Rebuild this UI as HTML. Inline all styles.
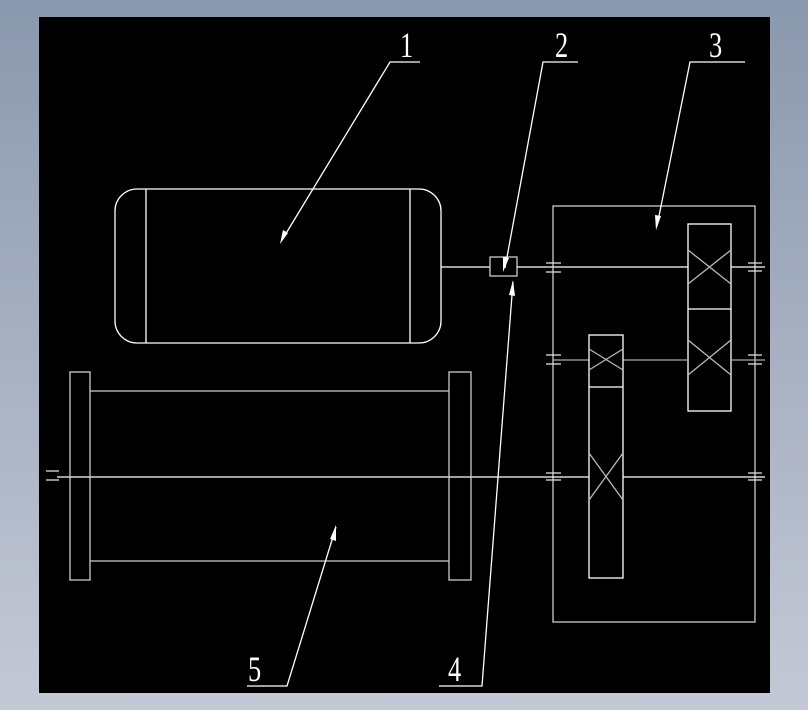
<!DOCTYPE html>
<html><head><meta charset="utf-8"><style>
html,body{margin:0;padding:0;width:808px;height:710px;overflow:hidden;background:linear-gradient(#8a98ad,#c4c9d6);}
svg{position:absolute;left:0;top:0}
text{font-family:"Liberation Serif",serif;font-size:33px;fill:#fff}
</style></head><body>
<svg width="808" height="710" viewBox="0 0 808 710">
<rect x="39" y="17" width="731" height="676" fill="#000"/>
<g stroke="#fff" stroke-width="1.3" fill="none">
<rect x="115" y="189" width="326" height="154" rx="22"/>
<line x1="146" y1="189" x2="146" y2="343"/>
<line x1="410" y1="189" x2="410" y2="343"/>
<line x1="441" y1="267" x2="490" y2="267"/>
<rect x="490" y="257" width="27" height="19" stroke="#ccc"/>
<line x1="517" y1="267" x2="688" y2="267"/>
<rect x="553" y="206" width="202" height="416" stroke="#ccc"/>
<rect x="688" y="224" width="43" height="187"/>
<line x1="688" y1="309" x2="731" y2="309"/>
<line x1="688" y1="250" x2="731" y2="284" stroke="#bbb"/><line x1="731" y1="250" x2="688" y2="284" stroke="#bbb"/>
<line x1="688" y1="340" x2="731" y2="375" stroke="#bbb"/><line x1="731" y1="340" x2="688" y2="375" stroke="#bbb"/>
<line x1="731" y1="267" x2="765" y2="267"/>
<line x1="553" y1="360" x2="589" y2="360" stroke="#aaa"/>
<line x1="623" y1="360" x2="688" y2="360" stroke="#aaa"/>
<line x1="731" y1="360" x2="765" y2="360" stroke="#aaa"/>
<rect x="589" y="335" width="34" height="243"/>
<line x1="589" y1="387" x2="623" y2="387"/>
<line x1="589" y1="349" x2="623" y2="370" stroke="#bbb"/><line x1="623" y1="349" x2="589" y2="370" stroke="#bbb"/>
<line x1="589" y1="453" x2="623" y2="500" stroke="#bbb"/><line x1="623" y1="453" x2="589" y2="500" stroke="#bbb"/>
<line x1="57" y1="477" x2="589" y2="477"/>
<line x1="623" y1="477" x2="765" y2="477"/>
<g stroke="#ddd">
<line x1="546" y1="263" x2="561" y2="263"/><line x1="546" y1="272" x2="561" y2="272"/>
<line x1="748" y1="263" x2="762" y2="263"/><line x1="748" y1="271" x2="762" y2="271"/>
<line x1="546" y1="355" x2="561" y2="355"/><line x1="546" y1="364" x2="561" y2="364"/>
<line x1="748" y1="355" x2="762" y2="355"/><line x1="748" y1="364" x2="762" y2="364"/>
<line x1="546" y1="473" x2="561" y2="473"/><line x1="546" y1="480" x2="561" y2="480"/>
<line x1="748" y1="473" x2="762" y2="473"/><line x1="748" y1="480" x2="762" y2="480"/>
<line x1="46" y1="471" x2="59" y2="471"/><line x1="46" y1="480" x2="59" y2="480"/>
</g>
<rect x="70" y="372" width="20" height="208" stroke="#ccc"/>
<rect x="449" y="372" width="22" height="208" stroke="#ccc"/>
<line x1="90" y1="391" x2="449" y2="391" stroke="#ccc"/>
<line x1="90" y1="561" x2="449" y2="561" stroke="#ccc"/>
<polyline points="420,62 390,62 282,240"/>
<polyline points="578,62 543,62 505,268"/>
<polyline points="745,62 690,62 657,226"/>
<polyline points="439,686 482,686 513,282"/>
<polyline points="247,686 287,686 336,527"/>
</g>
<g fill="#fff">
<polygon points="280,244 283,230 288,233"/>
<polygon points="503,272 503,257 509,258"/>
<polygon points="656,230 655,215 661,216"/>
<polygon points="513,280 509,295 515,296"/>
<polygon points="336,525 330,539 336,541"/>
</g>
<text transform="translate(400,57) scale(0.8,1.1)">1</text>
<text transform="translate(555,57) scale(0.8,1.1)">2</text>
<text transform="translate(709,57) scale(0.8,1.1)">3</text>
<text transform="translate(448,681) scale(0.8,1.1)">4</text>
<text transform="translate(248,681) scale(0.8,1.1)">5</text>
</svg>
</body></html>
